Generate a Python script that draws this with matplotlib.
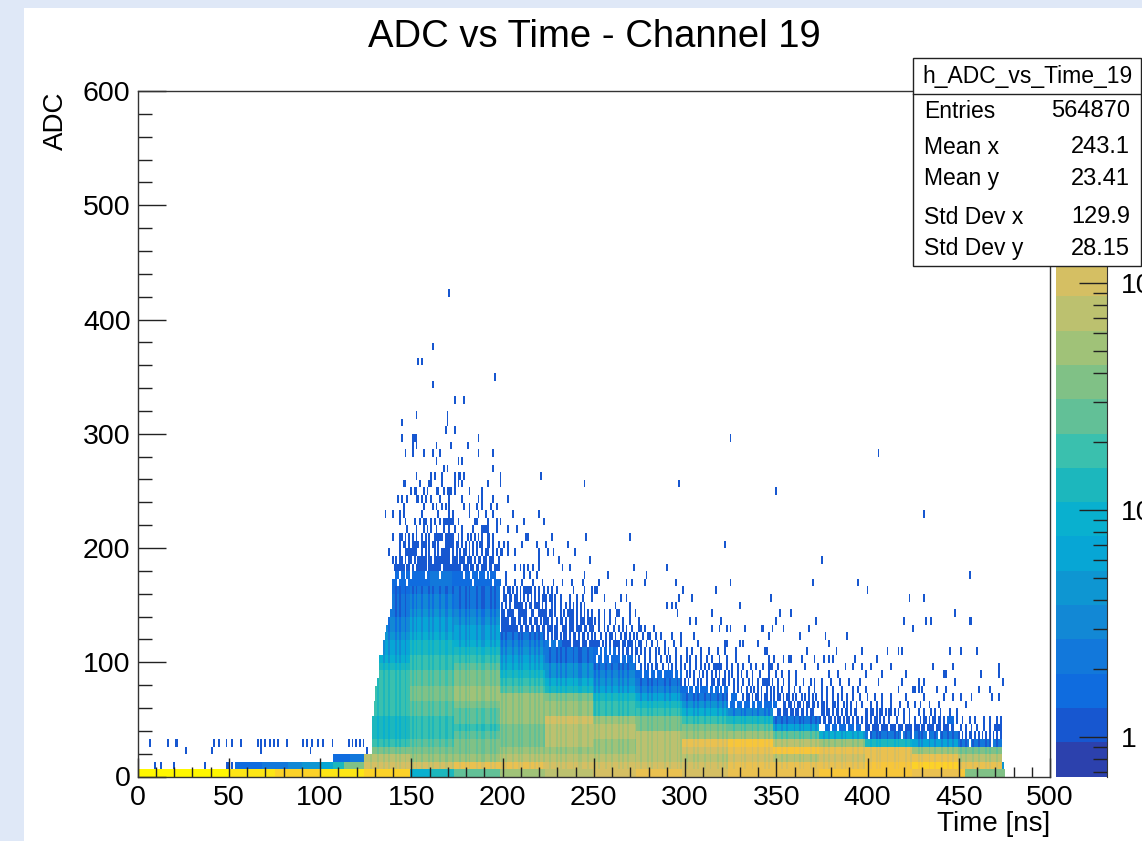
import numpy as np
import matplotlib
matplotlib.use('Agg')
import matplotlib.pyplot as plt
from matplotlib.colors import ListedColormap
from matplotlib.patches import Rectangle
from matplotlib.ticker import MultipleLocator

plt.rcParams['font.family'] = ['Liberation Sans', 'DejaVu Sans']

title = 'ADC vs Time - Channel 19'
stat_name = 'h_ADC_vs_Time_19'
stat_labels = ['Entries', 'Mean x', 'Mean y', 'Std Dev x', 'Std Dev y']
stat_values = ['564870', '243.1', '23.41', '129.9', '28.15']

# palette, bottom to top of the scale
palette = ['#2C41AD', '#1757D0', '#0F6CDF', '#1278DB', '#1288D5', '#0E96D2', '#07A6D5',
           '#09B0CF', '#1CB7BD', '#3AC0AE', '#62C097', '#80C186', '#A0C278', '#BCC16F',
           '#D5BF63', '#EAC150', '#F7C63A', '#FCD228', '#FDE615', '#FFF700']

# dense part: time slices in ns, each with colour level per ADC row from the bottom
seg_edges = [124, 149, 173, 198, 223, 249, 273, 298, 323, 348, 373, 398, 424, 449, 473]
seg_levels = [
    [17, 14, 13, 11, 9, 8, 8, 8, 9, 9, 9, 9, 9, 9, 8, 7, 6, 6, 5, 4, 4, 3, 3, 3, 2],
    [7, 14, 12, 11, 10, 9, 9, 9, 10, 10, 11, 11, 10, 10, 9, 9, 8, 8, 7, 6, 6, 5, 4, 4, 3],
    [10, 15, 12, 11, 11, 10, 9, 10, 10, 11, 12, 12, 11, 11, 10, 9, 8, 7, 6, 6, 5, 4, 3, 3, 3],
    [12, 15, 13, 12, 11, 11, 11, 12, 12, 12, 12, 10, 9, 8, 7, 6, 5, 4, 3],
    [13, 14, 13, 12, 13, 13, 13, 14, 12, 12, 11, 8, 7, 5, 5, 3, 3],
    [14, 14, 13, 12, 12, 13, 13, 12, 9, 9, 8, 6, 5, 4, 3],
    [15, 14, 13, 13, 13, 13, 11, 11, 9, 8, 6, 4, 3],
    [14, 14, 13, 14, 15, 12, 11, 9, 7, 5, 3],
    [15, 15, 14, 15, 16, 12, 10, 8, 4],
    [15, 15, 13, 16, 13, 10, 6, 3],
    [16, 15, 14, 15, 12, 7],
    [16, 16, 15, 15, 8, 3],
    [15, 17, 15, 12, 6, 3],
    [11, 15, 13, 11, 3],
]
# first filled ns of each row on the rising edge
rise_start = [124, 124, 124, 128, 128, 128, 128, 128, 129, 129, 130, 130, 131, 132, 132,
              132, 134, 134, 135, 136, 137, 138, 139, 139, 139]
# ns columns that read a little darker than their slice
column_dip = [127, 131, 134, 137, 141, 143, 146, 150, 152, 155, 159, 161, 165, 168, 169, 172,
              176, 179, 181, 185, 188, 189, 193, 195, 199, 201, 205, 208, 210, 214, 217, 219,
              222, 225, 229, 231, 234, 238, 241, 242, 246, 250, 252, 256, 259, 263, 265, 268,
              272, 275, 279, 281, 284, 288, 291, 295, 297, 300, 304, 306, 310, 313, 317, 320,
              322, 326, 330, 332, 336, 339, 343, 345, 349, 352, 355, 359, 362, 364, 368, 371,
              375, 378, 381, 385, 387, 391, 394, 397, 401, 404, 406, 410, 414, 416, 420, 423,
              427, 429, 433, 436, 440, 443, 446, 450, 453, 457, 460, 464, 466, 470]

# (row, first ns, last ns, level)
blocks = [
    (0, 0, 50, 19), (0, 50, 75, 18), (0, 75, 100, 17), (0, 100, 124, 18), (0, 160, 173, 8),
    (0, 449, 453, 16), (0, 473, 475, 11), (1, 473, 474, 5),
    (1, 53, 68, 2), (1, 68, 82, 3), (1, 82, 90, 4), (1, 90, 100, 5), (1, 100, 107, 6),
    (1, 107, 113, 8), (1, 113, 124, 11), (2, 107, 116, 2), (2, 116, 124, 3),
    (25, 139, 199, 2), (25, 160, 172, 3), (26, 141, 197, 2), (26, 160, 172, 3),
    (27, 141, 197, 1), (28, 143, 195, 1), (17, 223, 232, 3),
    (7, 443, 447, 2), (6, 376, 396, 2), (9, 324, 350, 2), (10, 325, 328, 2),
    (13, 273, 298, 2), (11, 298, 323, 2), (15, 249, 273, 2), (16, 249, 262, 2),
]

# single counts: row -> ns
singles = {
    63: [170], 56: [161], 54: [153, 155], 52: [195], 51: [161], 49: [173, 178],
    47: [152, 169], 46: [144, 169], 45: [168, 173],
    44: [144, 150, 151, 152, 186, 324], 43: [150, 152, 163, 171, 180],
    42: [146, 150, 156, 161, 165, 186, 194, 405], 41: [163, 175, 177],
    40: [167, 169, 194], 39: [152, 160, 162, 166, 173, 175, 176, 178, 198, 220],
    38: [145, 146, 154, 159, 160, 166, 173, 175, 177, 191, 198, 244, 296],
    37: [149, 151, 152, 156, 158, 163, 164, 167, 169, 170, 171, 173, 181, 188, 349],
    36: [142, 144, 147, 152, 153, 155, 157, 160, 165, 170, 177, 186, 188, 194, 202],
    35: [145, 156, 161, 163, 166, 168, 170, 178, 181, 185, 188, 193, 196],
    34: [135, 139, 143, 145, 155, 164, 170, 172, 181, 186, 190, 194, 205, 219, 430],
    33: [143, 146, 151, 154, 156, 157, 160, 162, 165, 167, 168, 169, 170, 171, 172, 175, 184,
         185, 191, 196, 198, 211, 222],
    32: [147, 152, 156, 158, 160, 163, 167, 170, 173, 177, 183, 188, 189, 190, 191, 196, 202, 207],
    31: [139, 143, 144, 148, 150, 155, 159, 162, 163, 164, 165, 166, 169, 170, 171, 172, 175,
         180, 182, 186, 191, 194, 212, 213, 226, 245, 269, 146, 152, 157, 168, 177, 184, 188, 192],
    30: [143, 145, 148, 150, 155, 156, 159, 161, 164, 168, 169, 170, 171, 172, 175, 179, 185,
         188, 194, 197, 200, 202, 210, 218, 223, 235, 321, 146, 151, 152, 153, 157, 162, 174, 177,
         181, 183, 187, 191, 192],
    29: [137, 146, 147, 148, 149, 150, 151, 152, 157, 159, 162, 166, 167, 168, 169, 170, 172,
         176, 179, 183, 188, 190, 191, 198, 199, 202, 219, 224, 227, 143, 155, 164, 174, 178,
         181, 185, 194, 196, 206, 239],
    28: [139, 141, 197, 219, 230, 247, 374],
    27: [140, 197, 206, 209, 211, 213, 216, 219, 232, 236, 271, 289],
    26: [201, 211, 214, 218, 244, 257, 278, 455],
    25: [201, 206, 210, 216, 221, 227, 232, 237, 243, 252, 267, 270, 277, 294, 324, 369, 394],
    24: [200, 202, 205, 209, 211, 212, 213, 214, 215, 219, 222, 226, 238, 244, 248, 250, 251,
         298, 316, 399, 203, 207, 217, 224, 229],
    23: [200, 201, 203, 206, 209, 213, 217, 221, 222, 223, 225, 226, 228, 243, 248, 255, 264,
         267, 296, 303, 346, 422, 430, 204, 207, 211, 215, 219, 231, 236, 240],
    22: [206, 207, 208, 209, 210, 212, 217, 218, 219, 223, 234, 238, 240, 242, 244, 261, 269,
         289, 292, 294, 329, 199, 201, 203, 214, 215, 221, 226, 228, 231, 236],
    21: [202, 203, 204, 205, 208, 209, 210, 211, 212, 215, 216, 219, 220, 221, 222, 223, 228,
         231, 235, 236, 237, 238, 240, 244, 252, 262, 263, 269, 272, 295, 314, 351, 357, 447,
         199, 200, 225, 226, 233, 242, 246, 248, 255, 258],
    20: [200, 204, 205, 206, 211, 212, 214, 215, 217, 218, 220, 222, 226, 229, 234, 240, 244,
         248, 252, 258, 269, 274, 302, 305, 319, 349, 371, 419, 431, 434, 455, 456, 199, 201,
         202, 208, 209, 223, 224, 231, 232, 236, 237, 238, 242, 243, 246, 247, 250, 255, 261, 265],
    19: [199, 200, 201, 202, 203, 204, 205, 206, 207, 209, 210, 212, 213, 215, 216, 218, 219,
         221, 222, 224, 225, 226, 228, 229, 232, 233, 234, 236, 237, 238, 240, 241, 242, 244,
         245, 247, 248, 249, 252, 260, 263, 267, 274, 275, 277, 282, 314, 318, 322, 324, 332,
         341, 342, 347, 353, 367, 424, 255, 257, 265, 270],
    18: [224, 226, 228, 229, 231, 233, 234, 236, 238, 239, 241, 243, 244, 246, 248, 253, 256,
         261, 264, 269, 279, 280, 286, 292, 297, 304, 345, 362, 376, 388, 250, 258, 259, 266,
         267, 271, 273, 276, 283],
    17: [232, 233, 234, 235, 236, 238, 239, 240, 241, 243, 244, 245, 247, 248, 249, 254, 258,
         260, 263, 266, 270, 272, 275, 293, 297, 321, 322, 329, 331, 339, 378, 250, 251, 252,
         256, 261, 262, 265, 268, 269, 274, 278, 281, 284, 288, 306],
    16: [263, 265, 267, 268, 270, 272, 273, 275, 277,
         283, 285, 288, 290, 300, 308, 317, 321, 327, 343, 344, 366, 382, 396, 410, 416, 418,
         444, 450, 459, 280, 294, 303, 312],
    15: [277, 286, 289, 294, 302, 305, 311, 318, 322, 345, 348, 353, 356, 357, 363, 370, 375,
         378, 380, 392, 404, 274, 280, 283, 291, 297, 300, 308, 314, 327, 334],
    14: [275, 279, 281, 284, 290, 294, 302, 310, 315, 316, 317, 318, 319, 338, 345, 346, 347,
         365, 372, 387, 391, 396, 401, 412, 435, 446, 471, 277, 283, 287, 292, 297, 299, 305,
         308, 312, 322, 325, 328, 331, 335, 342, 350],
    13: [300, 309, 314, 321, 325, 328, 333, 352, 356, 378, 383, 398, 407, 420, 441, 442, 461,
         471, 302, 304, 307, 311, 316, 318, 323, 330, 336, 340, 345, 349, 360],
    12: [304, 314, 315, 317, 318, 320, 321, 323, 326, 334, 339, 342, 343, 344, 345, 353, 364,
         370, 379, 389, 395, 405, 418, 427, 430, 447, 473, 299, 301, 306, 308, 311, 328, 331,
         336, 347, 350, 356, 360, 368, 374, 384],
    11: [330, 337, 341, 350, 356, 367, 377, 380, 391, 398, 416, 424, 425, 427, 429, 437, 442,
         460, 466, 326, 328, 333, 335, 339, 344, 346, 348, 352, 359, 362, 370, 374, 385, 394],
    10: [331, 333, 334, 336, 338, 339, 341, 343, 344, 346, 348, 350, 351, 353, 355, 356, 358,
         367, 371, 385, 395, 403, 412, 420, 430, 441, 446, 450, 456, 467, 471, 360, 363, 365,
         369, 374, 377, 380, 383, 388, 391, 399, 407],
    9: [353, 354, 356, 357, 359, 361, 362, 364, 366, 367, 369, 370, 374, 377, 383, 390, 401,
        407, 412, 417, 421, 428, 433, 438, 453, 372, 375, 380, 381, 386, 388, 393, 396, 404, 425],
    8: [350, 351, 353, 354, 355, 357, 358, 360, 361, 363, 364, 366, 368, 369, 374, 375, 377,
        378, 380, 382, 383, 385, 387, 388, 390, 392, 393, 398, 399, 401, 402, 404, 406, 407,
        409, 411, 412, 414, 416, 419, 427, 434, 439, 444, 448, 422, 430, 436],
    7: [372, 373, 375, 376, 378, 379, 381, 383, 384, 386, 388, 389, 391, 393, 394, 398, 399,
        401, 403, 404, 406, 408, 419, 428, 430, 431, 433, 435, 436, 438, 439, 451, 458, 463,
        466, 470, 472, 396, 411, 415, 422, 425, 441, 448, 455],
    6: [398, 399, 400, 402, 403, 404, 405, 407, 408, 409, 410, 412, 413, 414, 416, 417, 418,
        420, 421, 422, 423, 425, 426, 427, 429, 430, 432, 433, 434, 435, 437, 438, 439, 441,
        442, 443, 445, 446, 450, 456, 463, 469, 470, 471, 472, 453, 459, 466],
    5: [449, 451, 453, 455, 456, 458, 460, 462, 464, 466, 468, 470, 472],
    4: [6, 16, 20, 21, 41, 44, 48, 51, 56, 65, 67, 69, 72, 74, 76, 81, 90, 92, 95, 98, 101,
        106, 115, 117, 119, 121, 123],
    3: [26, 40, 67, 94, 125],
    1: [9, 12, 19, 36, 48, 49, 51],
}
# white gaps inside the thin rows: row -> ns
gaps = {
    5: [400, 418, 424, 432, 438],
    4: [455, 467],
    25: [142, 147, 183, 194],
    26: [143, 146, 149, 157, 165, 178, 182, 186, 190, 192, 196],
    27: [146, 149, 151, 158, 166, 177, 181, 184, 187, 191, 194],
    28: [145, 147, 150, 152, 158, 161, 171, 175, 179, 183, 185, 188, 191],
    13: [276, 280, 283, 287, 293, 296],
    11: [301, 304, 307, 312, 315, 318, 320],
    15: [251, 254, 258, 264, 267, 271],
    16: [252, 254, 257, 259],
    9: [327, 331, 335, 338, 342, 347],
    6: [379, 383, 388, 392],
    17: [225, 229],
}

# 90 rows over 600 ADC, 500 bins over 500 ns
n_rows = 90
n_bins = 500
hist = np.full((n_rows, n_bins), np.nan)
for s in range(len(seg_levels)):
    for r in range(len(seg_levels[s])):
        t0 = max(seg_edges[s], rise_start[r])
        hist[r, t0:seg_edges[s + 1]] = seg_levels[s][r]
# thin rows drop further than the brighter ones
for t in column_dip:
    for r in range(1, 25):
        if not np.isnan(hist[r, t]):
            if hist[r, t] < 8:
                hist[r, t] = max(hist[r, t] - 2, 1)
            else:
                hist[r, t] = hist[r, t] - 1
for r, t0, t1, lev in blocks:
    hist[r, t0:t1] = lev
for r in singles:
    for t in singles[r]:
        if np.isnan(hist[r, t]):
            hist[r, t] = 1
for r in gaps:
    for t in gaps[r]:
        hist[r, t] = np.nan

W = 1142
H = 841
fig = plt.figure(figsize=(W / 100, H / 100), dpi=100, facecolor='#DFE8F7')
fig.add_artist(Rectangle((24 / W, 0), 1, 1 - 8 / H, transform=fig.transFigure, fc='white', ec='none', zorder=-5))

ax = fig.add_axes([137.5 / W, 1 - 776.5 / H, 912.5 / W, 685.5 / H])
ax.patch.set_alpha(0)
cmap = ListedColormap(palette)
ax.imshow(hist, origin='lower', extent=(0, n_bins, 0, 600), aspect='auto', cmap=cmap,
          vmin=-0.5, vmax=19.5, interpolation='nearest')
ax.set_xlim(0, 500)
ax.set_ylim(0, 600)
ax.xaxis.set_major_locator(MultipleLocator(50))
ax.xaxis.set_minor_locator(MultipleLocator(10))
ax.yaxis.set_major_locator(MultipleLocator(100))
ax.yaxis.set_minor_locator(MultipleLocator(20))
ax.tick_params(which='major', axis='x', direction='in', length=14, width=1, labelsize=20.5, pad=6, color='#222222')
ax.tick_params(which='minor', axis='x', direction='in', length=7, width=1, color='#222222')
ax.tick_params(which='major', axis='y', direction='in', length=20, width=1, labelsize=20.5, pad=5, color='#222222')
ax.tick_params(which='minor', axis='y', direction='in', length=10, width=1, color='#222222')
for s in ax.spines.values():
    s.set_linewidth(1)
    s.set_color('#333333')
ax.set_xlabel('Time [ns]', loc='right', fontsize=20, labelpad=0)
ax.set_ylabel('ADC', loc='top', fontsize=20, labelpad=10)

# colour scale, 227 px per decade
cax = fig.add_axes([1056 / W, 1 - 776.5 / H, 51 / W, 686 / H])
low = 10 ** (-39.5 / 227)
high = 10 ** (646.5 / 227)
edges = np.geomspace(low, high, len(palette) + 1)
cax.pcolormesh([0, 1], edges, np.arange(len(palette)).reshape(-1, 1), cmap=cmap, vmin=-0.5, vmax=19.5)
cax.set_yscale('log')
cax.set_ylim(low, high)
cax.set_xticks([])
cax.yaxis.tick_right()
cax.set_yticks([1, 10, 100])
cax.set_yticklabels(['1', '10', '10'])
cax.set_yticks([0.7, 0.8, 0.9, 2, 3, 4, 5, 6, 7, 8, 9, 20, 30, 40, 50, 60, 70, 80, 90, 200, 300, 400, 500, 600], minor=True)
cax.yaxis.set_minor_formatter(plt.NullFormatter())
cax.tick_params(which='major', axis='y', direction='in', length=20, width=1, labelsize=20.5, pad=10, color='#222222')
cax.tick_params(which='minor', axis='y', direction='in', length=10, width=1, color='#222222')
for k in ['left', 'top', 'bottom']:
    cax.spines[k].set_visible(False)
cax.spines['right'].set_color('#333333')

fig.text(594 / W, 1 - 37 / H, title, ha='center', va='center', fontsize=27.5)

# stats box
fig.add_artist(Rectangle((913 / W, 1 - 266 / H), 228 / W, 208 / H, transform=fig.transFigure,
                         fc='white', ec='#222222', lw=1, zorder=5))
fig.add_artist(plt.Line2D([913 / W, 1141 / W], [1 - 94 / H, 1 - 94 / H], color='#222222', lw=1, zorder=6))
fig.text(1027 / W, 1 - 77 / H, stat_name, ha='center', va='center', fontsize=16.5, zorder=7)
stat_y = [111, 147, 179, 217, 249]
for i in range(len(stat_labels)):
    fig.text(924 / W, 1 - stat_y[i] / H, stat_labels[i], ha='left', va='center', fontsize=16.5, zorder=7)
    fig.text(1130 / W, 1 - stat_y[i] / H, stat_values[i], ha='right', va='center', fontsize=17, zorder=7)

fig.savefig('out.png', dpi=100, facecolor=fig.get_facecolor())
